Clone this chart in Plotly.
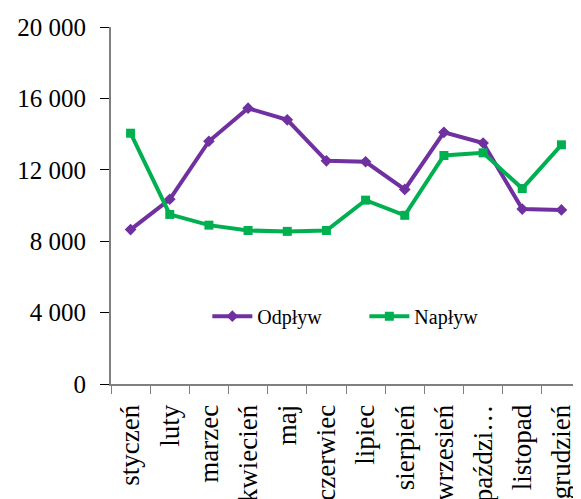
import plotly.graph_objects as go

months = ["styczeń", "luty", "marzec", "kwiecień", "maj", "czerwiec", "lipiec",
          "sierpień", "wrzesień", "paździ…", "listopad", "grudzień"]
odplyw = [8650, 10350, 13600, 15450, 14800, 12500, 12450, 10900, 14100, 13500, 9800, 9750]
naplyw = [14050, 9500, 8900, 8600, 8550, 8600, 10300, 9450, 12800, 12950, 10950, 13400]
y_ticks = [0, 4000, 8000, 12000, 16000, 20000]

SERIF = "Liberation Serif, Times New Roman, serif"

fig = go.Figure()
fig.add_trace(go.Scatter(x=months, y=odplyw, name="Odpływ", mode="lines+markers",
                         line=dict(color="#7030A0", width=4),
                         marker=dict(symbol="diamond", size=9, color="#7030A0")))
fig.add_trace(go.Scatter(x=months, y=naplyw, name="Napływ", mode="lines+markers",
                         line=dict(color="#00B050", width=4),
                         marker=dict(symbol="square", size=9, color="#00B050")))

# page body has an 8px margin; compensate so the plot area lands where the reference has it
fig.update_layout(
    width=573, height=491,
    margin=dict(l=103, r=0, t=19, b=115, autoexpand=False),
    paper_bgcolor="white", plot_bgcolor="white",
    separators=", ",
    font=dict(family=SERIF, color="black"),
    showlegend=True,
    legend=dict(orientation="h", x=0.205, y=0.19, xanchor="left", yanchor="middle",
                font=dict(family=SERIF, size=20), bgcolor="rgba(0,0,0,0)",
                itemwidth=40, entrywidth=102, entrywidthmode="pixels"),
)
fig.update_yaxes(range=[0, 20000], tickvals=y_ticks, tickformat=",d",
                 showgrid=False, zeroline=False, showline=True, linecolor="#808080",
                 linewidth=2, ticks="outside", ticklen=9, tickcolor="black",
                 tickfont=dict(family=SERIF, size=25), ticklabelstandoff=9)
fig.update_xaxes(tickangle=-90, showgrid=False, showline=True, linecolor="#808080",
                 linewidth=2, ticks="outside", ticklen=8, tickcolor="#808080",
                 tickson="boundaries", tickfont=dict(family=SERIF, size=27),
                 ticklabelstandoff=8, range=[-0.5, 11.5])

fig.write_html("out.html")
